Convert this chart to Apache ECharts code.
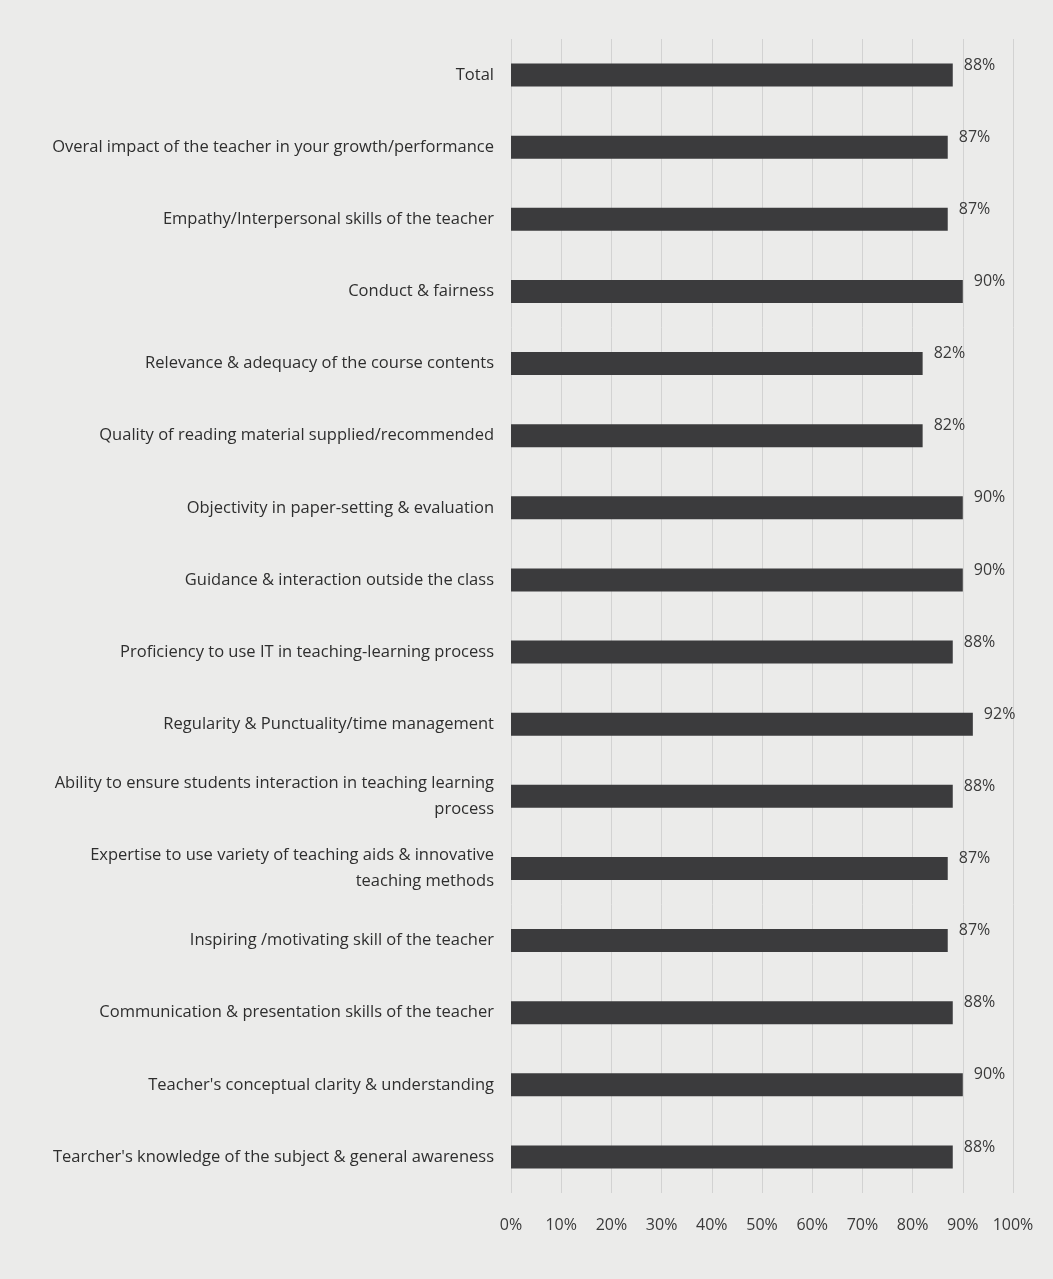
<!DOCTYPE html>
<html>
<head>
<meta charset="utf-8">
<script src="https://cdn.jsdelivr.net/npm/echarts@6/dist/echarts.min.js"></script>
<style>
html,body{margin:0;padding:0;background:#ebebea;}
#c{width:1053px;height:1279px;}
</style>
</head>
<body>
<div id="c"></div>
<script>
const categories = [
  "Total",
  "Overal impact of the teacher in your growth/performance",
  "Empathy/Interpersonal skills of the teacher",
  "Conduct & fairness",
  "Relevance & adequacy of the course contents",
  "Quality of reading material supplied/recommended",
  "Objectivity in paper-setting & evaluation",
  "Guidance & interaction outside the class",
  "Proficiency to use IT in teaching-learning process",
  "Regularity & Punctuality/time management",
  "Ability to ensure students interaction in teaching learning\nprocess",
  "Expertise to use variety of teaching aids & innovative\nteaching methods",
  "Inspiring /motivating skill of the teacher",
  "Communication & presentation skills of the teacher",
  "Teacher's conceptual clarity & understanding",
  "Tearcher's knowledge of the subject & general awareness"
];
const values = [88, 87, 87, 90, 82, 82, 90, 90, 88, 92, 88, 87, 87, 88, 90, 88];
const tickValues = [0, 10, 20, 30, 40, 50, 60, 70, 80, 90, 100];

const chart = echarts.init(document.getElementById('c'), null, {renderer: 'canvas'});
chart.setOption({
  backgroundColor: '#ebebea',
  animation: false,
  grid: {left: 511, right: 40, top: 39, bottom: 86, containLabel: false},
  xAxis: {
    type: 'value', min: 0, max: 100, interval: 10,
    axisLine: {show: false}, axisTick: {show: false},
    splitLine: {show: true, lineStyle: {color: '#d2d2d2', width: 1}},
    axisLabel: {formatter: v => v + '%', color: '#3a3a3a', fontSize: 16, fontFamily: 'Open Sans', margin: 24}
  },
  yAxis: {
    type: 'category', data: categories, inverse: true,
    axisLine: {show: false}, axisTick: {show: false},
    axisLabel: {color: '#2e2e2e', fontSize: 16.5, fontFamily: 'Open Sans', margin: 17, align: 'right', lineHeight: 26}
  },
  series: [{
    type: 'bar', data: values, barWidth: 23,
    itemStyle: {color: '#3b3b3d'},
    label: {show: true, position: 'right', offset: [6, -10], formatter: p => p.value + '%',
      color: '#3a3a3a', fontSize: 16, fontFamily: 'Open Sans'}
  }]
});
</script>
</body>
</html>
